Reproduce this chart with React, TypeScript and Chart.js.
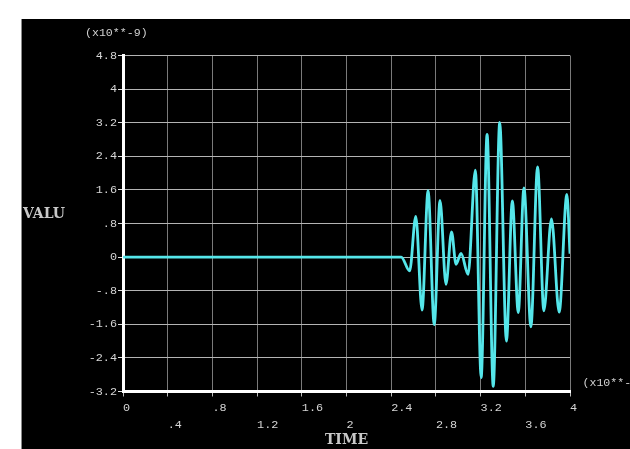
import React, { useEffect, useRef } from "react";
import { Chart, registerables } from "chart.js";

Chart.register(...registerables);

// Time axis (units of x10**-?) and response values (units of x10**-9)
const times = [
  0, 2.49, 2.565, 2.62, 2.676, 2.73, 2.785, 2.837, 2.89, 2.94, 2.98, 3.025,
  3.088, 3.153, 3.205, 3.258, 3.313, 3.371, 3.431, 3.484, 3.537, 3.588, 3.65,
  3.71, 3.766, 3.834, 3.903, 3.972, 4.0,
];
const values = [
  0, 0, -0.33, 0.97, -1.26, 1.58, -1.61, 1.35, -0.65, 0.6, -0.17, 0.09,
  -0.41, 2.07, -2.87, 2.92, -3.08, 3.21, -2.0, 1.34, -1.32, 1.65, -1.66,
  2.15, -1.28, 0.91, -1.31, 1.49, 0.08,
];

const xTickValues = [0, 0.4, 0.8, 1.2, 1.6, 2, 2.4, 2.8, 3.2, 3.6, 4];
const xTickLabels = [
  "0", ".4", ".8", "1.2", "1.6", "2", "2.4", "2.8", "3.2", "3.6", "4",
];
const yTickValues = [-3.2, -2.4, -1.6, -0.8, 0, 0.8, 1.6, 2.4, 3.2, 4, 4.8];
const yTickLabels = [
  "-3.2", "-2.4", "-1.6", "-.8", "0", ".8", "1.6", "2.4", "3.2", "4", "4.8",
];

const yAxisName = "VALU";
const xAxisName = "TIME";
const yMultiplier = "(x10**-9)";
const xMultiplier = "(x10**-3)";

const W = 608;
const H = 430;

export default function App() {
  const ref = useRef<HTMLCanvasElement | null>(null);

  useEffect(() => {
    const canvas = ref.current;
    if (!canvas) return;

    const labelsPlugin = {
      id: "ansysLabels",
      afterDraw(chart: any) {
        const ctx = chart.ctx;
        ctx.save();
        ctx.fillStyle = "#d0d0d0";
        ctx.textBaseline = "middle";
        ctx.textAlign = "left";
        ctx.font = "11.6px 'Liberation Mono', monospace";
        ctx.fillText(yMultiplier, 63, 13.5);
        ctx.fillText(xMultiplier, 560.5, 364);
        ctx.font = "bold 14px 'DejaVu Serif', serif";
        ctx.fillStyle = "#c8c8c8";
        ctx.fillText(yAxisName, 1, 195);
        ctx.restore();
      },
    };

    const chart = new Chart(canvas, {
      type: "line",
      data: {
        datasets: [
          {
            data: times.map((t, i) => ({ x: t, y: values[i] })),
            borderColor: "#55e6ea",
            borderWidth: 2.8,
            pointRadius: 0,
            cubicInterpolationMode: "monotone",
            fill: false,
          },
        ],
      },
      options: {
        responsive: false,
        animation: false,
        devicePixelRatio: 1,
        layout: { padding: { left: 0, top: 36.5, right: 60, bottom: 0 } },
        plugins: {
          legend: { display: false },
          tooltip: { enabled: false },
        },
        scales: {
          x: {
            type: "linear",
            min: 0,
            max: 4,
            afterFit: (s: any) => {
              s.height = 57.5;
            },
            afterBuildTicks: (s: any) => {
              s.ticks = xTickValues.map((v) => ({ value: v }));
            },
            grid: {
              color: "#7a7a7a",
              lineWidth: 1,
              tickLength: 5,
              tickColor: "#bdbdbd",
            },
            border: { color: "#ffffff", width: 3 },
            ticks: {
              autoSkip: false,
              maxRotation: 0,
              align: "start",
              padding: 3,
              color: "#d6d6d6",
              font: {
                family: "'Liberation Mono', monospace",
                size: 11.8,
                lineHeight: "17px",
              },
              callback: (_v: any, i: number) =>
                i % 2 === 0 ? [xTickLabels[i], ""] : ["", xTickLabels[i]],
            },
            title: {
              display: true,
              text: xAxisName,
              color: "#c8c8c8",
              font: { family: "'DejaVu Serif', serif", size: 14, weight: "bold" },
              padding: { top: 0, bottom: 0 },
            },
          },
          y: {
            type: "linear",
            min: -3.2,
            max: 4.8,
            afterFit: (s: any) => {
              s.width = 101;
            },
            afterBuildTicks: (s: any) => {
              s.ticks = yTickValues.map((v) => ({ value: v }));
            },
            grid: {
              color: "#b4b4b4",
              lineWidth: 1,
              tickLength: 5,
              tickColor: "#e0e0e0",
            },
            border: { color: "#ffffff", width: 3 },
            ticks: {
              autoSkip: false,
              padding: 1,
              color: "#d6d6d6",
              font: { family: "'Liberation Mono', monospace", size: 11.8 },
              callback: (_v: any, i: number) => yTickLabels[i],
            },
          },
        },
      },
      plugins: [labelsPlugin],
    } as any);

    return () => chart.destroy();
  }, []);

  return (
    <div
      style={{
        position: "fixed",
        left: 0,
        top: 0,
        width: 630,
        height: 449,
        background: "#ffffff",
        overflow: "hidden",
      }}
    >
      <div
        style={{
          position: "absolute",
          left: 21,
          top: 19,
          width: 1,
          height: 430,
          background: "#8a8a8a",
        }}
      />
      <canvas
        ref={ref}
        width={W}
        height={H}
        style={{
          position: "absolute",
          left: 22,
          top: 19,
          width: W,
          height: H,
          background: "#000000",
          display: "block",
        }}
      />
    </div>
  );
}
